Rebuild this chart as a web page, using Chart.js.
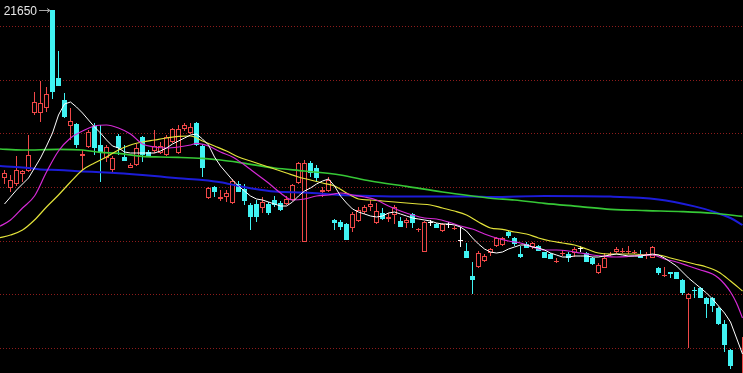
<!DOCTYPE html>
<html>
<head>
<meta charset="utf-8">
<title>K线</title>
<style>
  html, body { margin: 0; padding: 0; background: #000; }
  #wrap { width: 743px; height: 373px; }
  canvas { display: block; background: #000; }
</style>
<script src="https://cdn.jsdelivr.net/npm/chart.js@4.4.1/dist/chart.umd.min.js"></script>
</head>
<body>
<div id="wrap"><canvas id="kline" width="743" height="373"></canvas></div>
<script>
'use strict';

// ─── Daily candles (one entry per bar, left to right) ────────────────────────
const OPEN = [
  20810, 20760, 20780, 20830, 20845, 21135, 21135, 21160, 21650, 21310,
  21200, 21070, 21080, 20920, 20965, 21070, 20975, 20910, 20850, 21020,
  20915, 20860, 20875, 21015, 20940, 20945, 20935, 20925, 20990, 20935,
  21055, 21035, 21085, 20970, 20710, 20765, 20705, 20715, 20685, 20780,
  20755, 20675, 20680, 20660, 20680, 20700, 20685, 20680, 20700, 20785,
  20490, 20885, 20860, 20740, 20745, 20600, 20590, 20580, 20560, 20595,
  20640, 20665, 20585, 20635, 20605, 20625, 20595, 20585, 20630, 20550,
  20440, 20585, 20580, 20545, 20575, 20555, 20495, 20445, 20320, 20365,
  20395, 20435, 20470, 20475, 20540, 20510, 20430, 20480, 20465, 20470,
  20440, 20430, 20390, 20430, 20430, 20435, 20455, 20435, 20410, 20335,
  20360, 20425, 20440, 20440, 20440, 20435, 20430, 20425, 20410, 20360,
  20320, 20340, 20340, 20300, 20205, 20250, 20260, 20210, 20210, 20160,
  20080, 19950, 19775, 19700,
];
const HIGH = [
  20850, 20825, 20920, 20850, 21025, 21240, 21295, 21265, 21650, 21445,
  21235, 21160, 21085, 20950, 21050, 21085, 21075, 20975, 20920, 21030,
  20975, 20885, 20980, 21020, 20950, 21050, 20990, 21025, 21060, 21075,
  21085, 21085, 21090, 20980, 20765, 20770, 20750, 20750, 20805, 20795,
  20780, 20685, 20700, 20715, 20690, 20720, 20695, 20720, 20780, 20890,
  20900, 20895, 20875, 20765, 20815, 20605, 20600, 20585, 20640, 20665,
  20675, 20700, 20685, 20660, 20635, 20675, 20615, 20610, 20635, 20560,
  20595, 20600, 20585, 20585, 20590, 20570, 20565, 20485, 20390, 20445,
  20430, 20460, 20515, 20515, 20545, 20515, 20470, 20490, 20490, 20475,
  20440, 20435, 20410, 20450, 20440, 20465, 20470, 20440, 20415, 20385,
  20435, 20440, 20465, 20460, 20470, 20450, 20450, 20440, 20470, 20365,
  20365, 20340, 20340, 20305, 20235, 20265, 20265, 20215, 20215, 20165,
  20100, 19955, 19820, 20015,
];
const LOW = [
  20780, 20740, 20770, 20790, 20840, 21125, 21090, 21140, 21205, 21270,
  21110, 21000, 20960, 20850, 20960, 20925, 20790, 20890, 20840, 20925,
  20895, 20860, 20870, 20890, 20915, 20935, 20930, 20920, 20985, 20930,
  21045, 21030, 20970, 20815, 20705, 20715, 20695, 20690, 20680, 20740,
  20675, 20550, 20590, 20635, 20625, 20665, 20645, 20675, 20695, 20780,
  20490, 20815, 20790, 20715, 20740, 20550, 20550, 20500, 20540, 20590,
  20630, 20645, 20580, 20600, 20590, 20580, 20565, 20560, 20560, 20540,
  20440, 20570, 20560, 20540, 20560, 20550, 20465, 20410, 20230, 20360,
  20390, 20420, 20465, 20470, 20510, 20470, 20410, 20460, 20455, 20445,
  20410, 20405, 20385, 20420, 20390, 20415, 20440, 20390, 20375, 20330,
  20360, 20420, 20435, 20435, 20430, 20430, 20410, 20405, 20410, 20325,
  20315, 20310, 20305, 20225, 19960, 20210, 20210, 20110, 20140, 20075,
  19940, 19855, 19690, 19690,
];
const CLOSE = [
  20835, 20800, 20850, 20845, 20925, 21190, 21185, 21230, 21240, 21270,
  21115, 21095, 20975, 20930, 21040, 20960, 20940, 20965, 20910, 20960,
  20895, 20875, 20960, 20925, 20915, 20970, 20970, 21015, 21055, 21055,
  21075, 21065, 20975, 20860, 20760, 20740, 20715, 20735, 20795, 20740,
  20695, 20615, 20615, 20690, 20635, 20675, 20650, 20705, 20775, 20885,
  20885, 20835, 20810, 20750, 20800, 20585, 20565, 20500, 20630, 20650,
  20665, 20680, 20645, 20605, 20615, 20665, 20565, 20600, 20585, 20555,
  20590, 20585, 20560, 20580, 20575, 20560, 20495, 20410, 20300, 20435,
  20420, 20455, 20510, 20510, 20520, 20480, 20415, 20460, 20485, 20445,
  20410, 20405, 20395, 20435, 20410, 20455, 20455, 20390, 20380, 20375,
  20410, 20430, 20455, 20445, 20445, 20440, 20410, 20430, 20465, 20335,
  20325, 20330, 20305, 20235, 20230, 20245, 20210, 20180, 20170, 20080,
  19975, 19870, 19700, 19820,
];

// ─── Moving averages ─────────────────────────────────────────────────────────
// MA5 has a value for every bar; the slower ones are [barIndex, value] samples.
const MA5 = [
  20680, 20715, 20750, 20780, 20810, 20860, 20910, 20970, 21035, 21125,
  21180, 21190, 21165, 21135, 21100, 21065, 21035, 21000, 20970, 20960,
  20940, 20935, 20935, 20935, 20935, 20935, 20945, 20960, 20980, 20995,
  21010, 21025, 21030, 21005, 20975, 20915, 20870, 20835, 20800, 20770,
  20745, 20720, 20705, 20700, 20690, 20680, 20670, 20670, 20690, 20720,
  20745, 20760, 20780, 20795, 20805, 20770, 20720, 20685, 20655, 20640,
  20630, 20620, 20615, 20620, 20635, 20640, 20630, 20620, 20610, 20605,
  20600, 20595, 20585, 20580, 20580, 20575, 20565, 20545, 20510, 20480,
  20455, 20440, 20435, 20440, 20455, 20465, 20475, 20475, 20465, 20460,
  20450, 20435, 20425, 20415, 20415, 20420, 20420, 20420, 20415, 20415,
  20420, 20425, 20430, 20425, 20420, 20420, 20420, 20425, 20430, 20425,
  20410, 20390, 20370, 20340, 20310, 20285, 20260, 20235, 20205, 20170,
  20135, 20090, 20010, 19930,
];
const MA10 = [
  [-1, 20565], [1, 20600], [3, 20660], [5, 20720], [7, 20840], [9, 20945],
  [11, 21010], [13, 21045], [15, 21070], [17, 21075], [19, 21060], [21, 21030],
  [23, 20980], [25, 20965], [27, 20960], [29, 20965], [31, 20975], [32, 20983],
  [34, 20970], [36, 20940], [38, 20915], [40, 20875], [42, 20830], [44, 20785],
  [46, 20735], [48, 20700], [50, 20705], [52, 20720], [54, 20725], [56, 20735],
  [58, 20725], [60, 20715], [62, 20700], [64, 20670], [66, 20645], [68, 20625],
  [70, 20610], [72, 20605], [74, 20590], [76, 20570], [78, 20555], [80, 20530],
  [82, 20510], [84, 20495], [86, 20485], [88, 20465], [90, 20450], [92, 20450],
  [94, 20445], [96, 20435], [98, 20425], [100, 20418], [102, 20415], [104, 20418],
  [106, 20423], [108, 20425], [110, 20405], [112, 20390], [114, 20370], [116, 20350],
  [118, 20330], [119, 20310], [120, 20280], [121, 20240], [122, 20185], [123, 20110],
];
const MA20 = [
  [-1, 20510], [1, 20525], [3, 20550], [5, 20600], [7, 20665], [9, 20725],
  [11, 20790], [13, 20850], [15, 20885], [17, 20915], [19, 20950], [21, 20975],
  [23, 20990], [25, 21000], [27, 21010], [29, 21018], [31, 21020], [33, 20995],
  [35, 20970], [37, 20945], [39, 20915], [41, 20895], [43, 20875], [45, 20855],
  [47, 20835], [49, 20815], [51, 20800], [53, 20785], [55, 20770], [57, 20735],
  [59, 20705], [61, 20700], [63, 20695], [65, 20690], [67, 20685], [69, 20680],
  [71, 20675], [73, 20660], [75, 20645], [77, 20625], [79, 20590], [81, 20560],
  [83, 20553], [85, 20540], [87, 20530], [89, 20510], [91, 20495], [93, 20485],
  [95, 20475], [97, 20455], [99, 20435], [101, 20430], [103, 20430], [105, 20430],
  [107, 20425], [109, 20425], [111, 20410], [113, 20395], [115, 20380], [117, 20365],
  [119, 20340], [121, 20295], [123, 20245],
];
const MA60 = [
  [-1, 20955], [3, 20950], [9, 20953], [13, 20950], [16, 20938], [19, 20933],
  [23, 20918], [26, 20915], [29, 20913], [33, 20908], [36, 20900], [39, 20888],
  [45, 20860], [50, 20845], [56, 20825], [61, 20795], [67, 20768], [73, 20740],
  [78, 20720], [81, 20709], [85, 20700], [90, 20683], [96, 20667], [101, 20653],
  [107, 20647], [113, 20642], [118, 20634], [123, 20618],
];
const MA120 = [
  [-1, 20870], [3, 20863], [6, 20853], [9, 20850], [13, 20843], [16, 20839],
  [19, 20834], [23, 20825], [26, 20817], [29, 20809], [33, 20800], [36, 20789],
  [39, 20770], [41, 20759], [45, 20742], [50, 20737], [56, 20725], [61, 20720],
  [67, 20717], [73, 20717], [78, 20717], [81, 20715], [90, 20720], [101, 20717],
  [109, 20703], [115, 20668], [118, 20643], [121, 20610], [123, 20575],
];

// dotted horizontal guide levels
const GRID_LEVELS = [21568, 21300, 21032, 20765, 20495, 20228, 19960];

// ─── Look ─────────────────────────────────────────────────────────────────────
const COLORS = {
  up:    '#f04848',
  down:  '#40f2f2',
  flat:  '#ffffff',
  grid:  '#8e1c1c',
  ma5:   '#ffffff',
  ma10:  '#d62ad6',
  ma20:  '#e2e23a',
  ma60:  '#36c836',
  ma120: '#1c1cd8',
};

const kinds = OPEN.map((o, i) => CLOSE[i] > o ? 'up' : CLOSE[i] < o ? 'down' : 'flat');
const pairs = arr => arr.map(([x, y]) => ({ x, y }));

// ─── Peak price marker ("21650 →") ───────────────────────────────────────────
const peakLabel = {
  id: 'peakLabel',
  afterDatasetsDraw(chart) {
    const { ctx, scales } = chart;
    const top = Math.max(...HIGH);
    const idx = HIGH.indexOf(top);
    const tip = scales.x.getPixelForValue(idx) - 2.5;
    const y = Math.round(scales.y.getPixelForValue(top)) + 0.5;
    ctx.save();
    ctx.strokeStyle = '#a8a8a8';
    ctx.lineWidth = 1;
    ctx.beginPath();
    ctx.moveTo(tip - 11, y);
    ctx.lineTo(tip, y);
    ctx.moveTo(tip - 3, y - 2);
    ctx.lineTo(tip, y);
    ctx.lineTo(tip - 3, y + 2);
    ctx.stroke();
    ctx.fillStyle = '#e6e6e6';
    ctx.font = '12px "Liberation Sans", Arial, sans-serif';
    ctx.textAlign = 'right';
    ctx.textBaseline = 'alphabetic';
    ctx.fillText(String(top), tip - 13, y + 4.5);
    ctx.restore();
  },
};

// ─── Chart ───────────────────────────────────────────────────────────────────
const lineStyle = (color, width) => ({
  type: 'line',
  borderColor: color,
  borderWidth: width,
  pointRadius: 0,
  fill: false,
});

new Chart(document.getElementById('kline').getContext('2d'), {
  type: 'bar',
  data: {
    datasets: [
      { ...lineStyle(COLORS.ma5, 1),     order: 0, data: MA5.map((y, x) => ({ x, y })), tension: 0 },
      { ...lineStyle(COLORS.ma10, 1.2),  order: 1, data: pairs(MA10),  cubicInterpolationMode: 'monotone' },
      { ...lineStyle(COLORS.ma20, 1.2),  order: 2, data: pairs(MA20),  cubicInterpolationMode: 'monotone' },
      { ...lineStyle(COLORS.ma60, 1.6),  order: 3, data: pairs(MA60),  cubicInterpolationMode: 'monotone' },
      { ...lineStyle(COLORS.ma120, 2),   order: 4, data: pairs(MA120), cubicInterpolationMode: 'monotone' },
      {
        // candle bodies: hollow red when up, solid cyan when down
        type: 'bar',
        order: 10,
        data: OPEN.map((o, i) => ({ x: i, y: [Math.min(o, CLOSE[i]), Math.max(o, CLOSE[i])] })),
        backgroundColor: kinds.map(k => k === 'up' ? '#000000' : COLORS[k]),
        borderColor: kinds.map(k => COLORS[k]),
        borderWidth: kinds.map(k => k === 'up' ? 1 : 0),
        borderSkipped: false,
        barThickness: 5,
        minBarLength: 1,
        inflateAmount: 0,
        grouped: false,
      },
      {
        // wicks
        type: 'bar',
        order: 11,
        data: HIGH.map((h, i) => ({ x: i, y: [LOW[i], h] })),
        backgroundColor: kinds.map(k => COLORS[k]),
        borderWidth: 0,
        barThickness: 1,
        minBarLength: 1,
        inflateAmount: 0,
        grouped: false,
      },
    ],
  },
  options: {
    responsive: false,
    devicePixelRatio: 1,
    animation: false,
    layout: { padding: 0 },
    plugins: { legend: { display: false }, tooltip: { enabled: false } },
    scales: {
      x: {
        type: 'linear',
        display: false,
        offset: false,
        min: -0.75,
        max: -0.75 + 743 / 6,
      },
      y: {
        type: 'linear',
        min: 19835,
        max: 21700,
        afterBuildTicks: scale => { scale.ticks = GRID_LEVELS.map(value => ({ value })); },
        ticks: { display: false },
        grid: { color: COLORS.grid, lineWidth: 1, drawTicks: false },
        border: { display: false, dash: [1, 2] },
      },
    },
  },
  plugins: [peakLabel],
});
</script>
</body>
</html>
